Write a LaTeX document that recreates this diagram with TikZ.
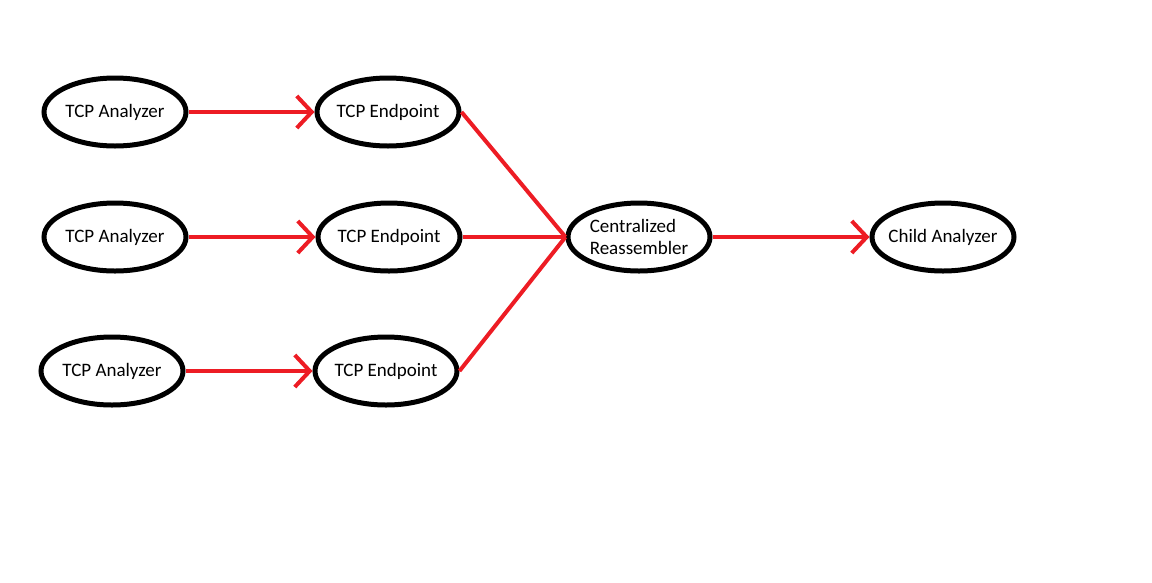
\documentclass[tikz,border=0pt]{standalone}
\usepackage{fontspec}
\setmainfont{Carlito}
\usetikzlibrary{shapes.geometric,arrows.meta,positioning}
\definecolor{paintred}{RGB}{237,28,36}
\tikzset{
  ell/.style={draw,ellipse,line width=5pt,minimum width=142pt,minimum height=68pt,
    inner xsep=-8pt,inner ysep=0pt,font=\fontsize{19pt}{22pt}\selectfont},
  link/.style={draw=paintred,line width=4pt},
  flow/.style={link,-{Straight Barb[length=15pt,width=32pt]}}
}
\begin{document}
\begin{tikzpicture}[x=1pt,y=-1pt,node distance=273pt]
  \useasboundingbox (0,0) rectangle (1152,582);

  \node [ell] (a1) at (115,112) {TCP Analyzer};
  \node [ell,right of=a1] (e1) {TCP Endpoint};
  \node [ell] (a2) at (115,237) {TCP Analyzer};
  \node [ell,right of=a2,xshift=1pt] (e2) {TCP Endpoint};
  \node [ell] (a3) at (112,371) {TCP Analyzer};
  \node [ell,right of=a3,xshift=1pt] (e3) {TCP Endpoint};
  \node [ell,align=left,right of=e2,xshift=-23pt] (r) {Centralized\\Reassembler};
  \node [ell,right of=r,xshift=31pt] (c) {Child Analyzer};

  \draw[flow] (a1) -- (e1);
  \draw[flow] (a2) -- (e2);
  \draw[flow] (a3) -- (e3);
  \draw[link] (e1.east) -- (r.west);
  \draw[link] (e2) -- (r);
  \draw[link] (e3.east) -- (r.west);
  \draw[flow] (r) -- (c);
\end{tikzpicture}
\end{document}
